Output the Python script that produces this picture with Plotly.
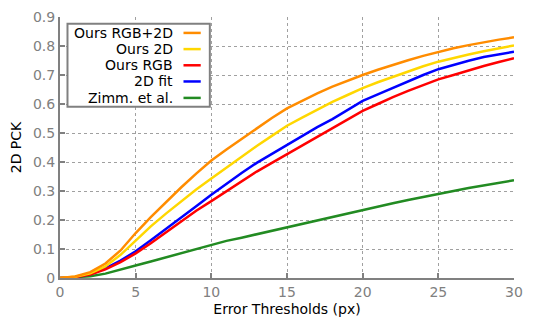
import plotly.graph_objects as go

thresholds = list(range(0, 31))

rgb_2d = [0, 0.005, 0.02, 0.05, 0.095, 0.155, 0.21, 0.262, 0.312, 0.36, 0.405,
          0.443, 0.48, 0.517, 0.552, 0.585, 0.612, 0.637, 0.66, 0.681, 0.70,
          0.718, 0.735, 0.751, 0.766, 0.78, 0.792, 0.803, 0.813, 0.822, 0.83]
ours_2d = [0, 0.004, 0.016, 0.04, 0.08, 0.13, 0.178, 0.222, 0.265, 0.305, 0.343,
           0.381, 0.418, 0.455, 0.49, 0.525, 0.553, 0.58, 0.607, 0.631, 0.655,
           0.675, 0.694, 0.713, 0.73, 0.746, 0.759, 0.771, 0.782, 0.792, 0.802]
ours_rgb = [0, 0.003, 0.012, 0.03, 0.055, 0.085, 0.12, 0.158, 0.197, 0.232, 0.265,
            0.3, 0.334, 0.367, 0.397, 0.427, 0.458, 0.488, 0.518, 0.547, 0.576,
            0.6, 0.624, 0.645, 0.665, 0.685, 0.7, 0.716, 0.731, 0.745, 0.758]
fit_2d = [0, 0.003, 0.013, 0.033, 0.06, 0.092, 0.13, 0.168, 0.207, 0.247, 0.287,
          0.326, 0.362, 0.397, 0.428, 0.458, 0.49, 0.52, 0.548, 0.58, 0.611,
          0.633, 0.656, 0.678, 0.70, 0.72, 0.735, 0.749, 0.762, 0.772, 0.78]
zimm = [0, 0.002, 0.006, 0.015, 0.028, 0.043, 0.057, 0.071, 0.086, 0.1, 0.114,
        0.128, 0.139, 0.151, 0.163, 0.175, 0.188, 0.2, 0.212, 0.224, 0.236,
        0.247, 0.258, 0.269, 0.28, 0.29, 0.3, 0.31, 0.319, 0.328, 0.337]

series = [
    ('Ours RGB+2D', rgb_2d, '#ff8c00'),
    ('Ours 2D', ours_2d, '#ffd700'),
    ('Ours RGB', ours_rgb, '#ff0000'),
    ('2D fit', fit_2d, '#0000ff'),
    ('Zimm. et al.', zimm, '#228b22'),
]

FONT = 'DejaVu Sans'
GRAY = '#808080'

fig = go.Figure()
# draw in reverse so the top legend entry is on top
for name, vals, color in reversed(series):
    fig.add_trace(go.Scatter(x=thresholds, y=vals, name=name, mode='lines',
                             line=dict(color=color, width=2.5),
                             showlegend=False))

# gnuplot-style legend: right-aligned text, sample line on the right
shapes = [dict(type='rect', xref='paper', yref='paper',
               x0=0.0165, x1=0.33, y0=0.656, y1=0.974,
               fillcolor='white', line=dict(color=GRAY, width=2), layer='above')]
annotations = []
row_y = [0.939, 0.877, 0.815, 0.753, 0.690]
for (name, vals, color), ry in zip(series, row_y):
    annotations.append(dict(text=name, xref='paper', yref='paper', x=0.2525, y=ry,
                            xanchor='right', yanchor='middle', showarrow=False,
                            font=dict(family=FONT, size=14, color='black')))
    shapes.append(dict(type='line', xref='paper', yref='paper',
                       x0=0.272, x1=0.31, y0=ry, y1=ry,
                       line=dict(color=color, width=2.5), layer='above'))

axis_style = dict(
    showline=True, linecolor=GRAY, linewidth=2,
    ticks='inside', ticklen=5, tickcolor=GRAY, tickwidth=2,
    showgrid=True, gridcolor='#a0a0a0', gridwidth=1, griddash='dot',
    zeroline=False, mirror=False, automargin=False,
    tickfont=dict(family=FONT, size=14, color=GRAY),
)

fig.update_xaxes(range=[0, 30], tickvals=[0, 5, 10, 15, 20, 25, 30],
                 title=dict(text='Error Thresholds (px)', standoff=5,
                            font=dict(family=FONT, size=14, color='black')),
                 **axis_style)
fig.update_yaxes(range=[0, 0.9], dtick=0.1, tickformat='.1~f',
                 title=dict(text='2D PCK', standoff=11,
                            font=dict(family=FONT, size=14, color='black')),
                 **axis_style)

# page body has an 8px margin, so shrink the figure to fit the window
fig.update_layout(
    width=532, height=317,
    margin=dict(l=52, r=26, t=9, b=47),
    plot_bgcolor='white', paper_bgcolor='white',
    shapes=shapes, annotations=annotations,
    font=dict(family=FONT),
)

fig.write_html('out.html')
